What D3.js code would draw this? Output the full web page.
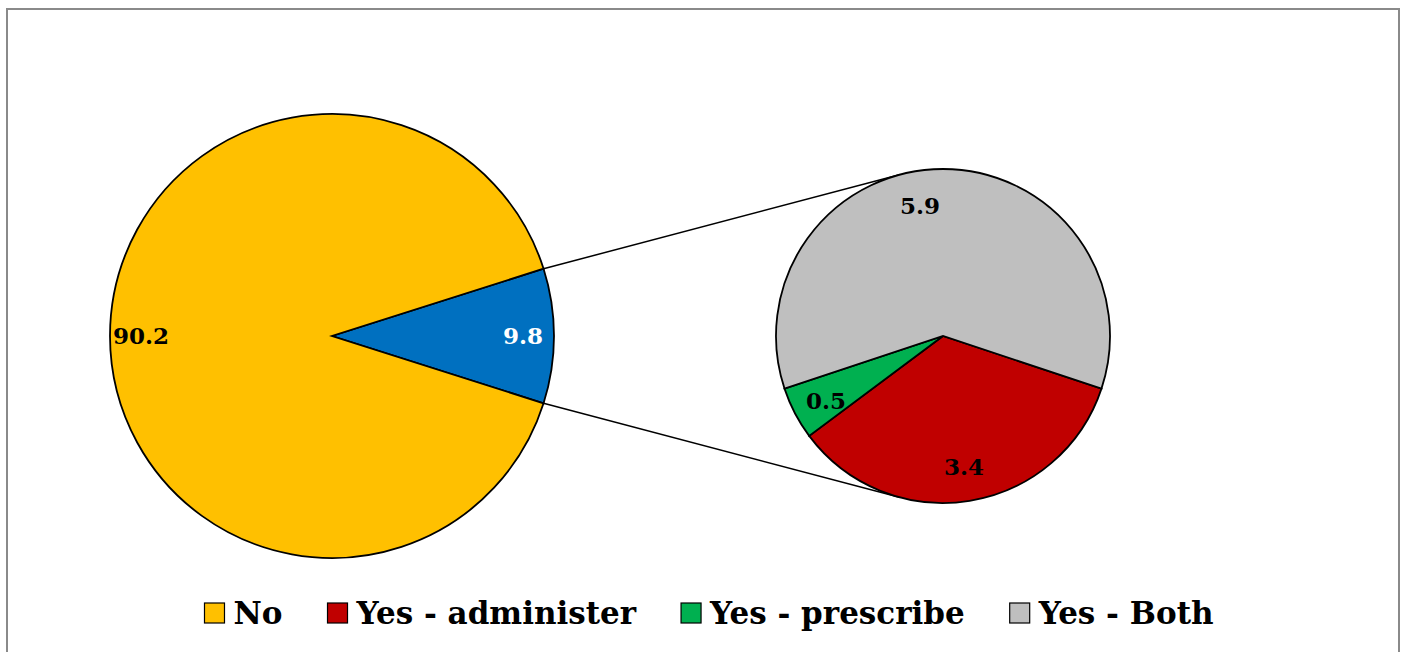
<!DOCTYPE html>
<html lang="en">
<head>
    <meta charset="UTF-8">
    <title>Pie of pie</title>
    <script src="https://d3js.org/d3.v7.min.js"></script>
</head>
<style type="text/css">
    body { margin: 0; background: white; }
    svg text { font-family: "DejaVu Serif", serif; font-weight: bold; }
</style>
<body>
<div id="chart"></div>
<script>
    // data
    var categories = ["No", "Yes - administer", "Yes - prescribe", "Yes - Both"];
    var values = [90.2, 3.4, 0.5, 5.9];
    var mainLabels = ["90.2", "9.8"];
    var colors = ["#FFC000", "#C00000", "#00B050", "#BFBFBF"];
    var yesColor = "#0070C0";

    var width = 1405, height = 652;
    var c1 = [332, 336], r1 = 222;
    var c2 = [943, 336], r2 = 167;

    var svg = d3.select("#chart").append("svg")
        .attr("width", width).attr("height", height);

    svg.append("rect")
        .attr("x", 7).attr("y", 9)
        .attr("width", 1392).attr("height", 660)
        .style("fill", "white")
        .style("stroke", "#8a8a8a")
        .style("stroke-width", 2);

    var yesTotal = d3.sum(values.slice(1));
    var total = d3.sum(values);
    var deg = Math.PI / 180;

    // main pie: "Yes" slice centred on the right side
    var mainData = [{name: "Yes", value: yesTotal, color: yesColor, label: mainLabels[1]},
                    {name: "No", value: values[0], color: colors[0], label: mainLabels[0]}];
    var start1 = 90 * deg - (yesTotal / total) * Math.PI;
    var pie1 = d3.pie().sort(null).value(function (d) { return d.value; })
        .startAngle(start1).endAngle(start1 + 2 * Math.PI);
    var arc1 = d3.arc().innerRadius(0).outerRadius(r1);

    var g1 = svg.append("g").attr("transform", "translate(" + c1[0] + "," + c1[1] + ")");
    var arcs1 = pie1(mainData);
    g1.selectAll("path").data(arcs1).enter().append("path")
        .attr("d", arc1)
        .style("fill", function (d) { return d.data.color; })
        .style("stroke", "black")
        .style("stroke-width", 1.8);

    // second pie: the "Yes" breakdown, "Both" centred at the top
    var subData = categories.slice(1).map(function (c, i) {
        return {name: c, value: values[i + 1], color: colors[i + 1]};
    });
    var start2 = (values[3] / yesTotal) * Math.PI;
    var pie2 = d3.pie().sort(null).value(function (d) { return d.value; })
        .startAngle(start2).endAngle(start2 + 2 * Math.PI);
    var arc2 = d3.arc().innerRadius(0).outerRadius(r2);

    // connector lines: tangents from the edges of the Yes slice to the second pie
    var yesArc = arcs1[0];
    [yesArc.startAngle, yesArc.endAngle].forEach(function (a, k) {
        var px = c1[0] + r1 * Math.sin(a), py = c1[1] - r1 * Math.cos(a);
        var dx = c2[0] - px, dy = c2[1] - py;
        var d = Math.sqrt(dx * dx + dy * dy);
        var base = Math.atan2(dy, dx);
        var off = Math.asin(r2 / d) * (k == 0 ? -1 : 1);
        var len = Math.sqrt(d * d - r2 * r2);
        svg.append("line")
            .attr("x1", px).attr("y1", py)
            .attr("x2", px + len * Math.cos(base + off))
            .attr("y2", py + len * Math.sin(base + off))
            .style("stroke", "black")
            .style("stroke-width", 1.5);
    });

    var g2 = svg.append("g").attr("transform", "translate(" + c2[0] + "," + c2[1] + ")");
    var arcs2 = pie2(subData);
    g2.selectAll("path").data(arcs2).enter().append("path")
        .attr("d", arc2)
        .style("fill", function (d) { return d.data.color; })
        .style("stroke", "black")
        .style("stroke-width", 1.8);

    // labels
    function labelPos(d, r) {
        var a = (d.startAngle + d.endAngle) / 2;
        return [r * Math.sin(a), -r * Math.cos(a)];
    }
    g1.selectAll("text").data(arcs1).enter().append("text")
        .attr("transform", function (d) { return "translate(" + labelPos(d, r1 * 0.86) + ")"; })
        .attr("text-anchor", "middle")
        .attr("dy", "0.36em")
        .style("font-size", "23px")
        .style("fill", function (d) { return d.data.name == "Yes" ? "white" : "black"; })
        .text(function (d) { return d.data.label; });

    var nudge = {"Yes - Both": [-23, 2], "Yes - prescribe": [0, 4]};
    g2.selectAll("text").data(arcs2).enter().append("text")
        .attr("transform", function (d) {
            var p = labelPos(d, r2 * 0.79);
            var n = nudge[d.data.name] || [0, 0];
            return "translate(" + (p[0] + n[0]) + "," + (p[1] + n[1]) + ")";
        })
        .attr("text-anchor", "middle")
        .attr("dy", "0.36em")
        .style("font-size", "23px")
        .text(function (d) { return d.data.value.toFixed(1); });

    // legend
    var legend = svg.append("g").attr("class", "legend");
    var items = legend.selectAll("g").data(categories).enter().append("g");
    items.append("rect")
        .attr("width", 20).attr("height", 20)
        .attr("y", -20)
        .style("fill", function (d, i) { return colors[i]; })
        .style("stroke", "black")
        .style("stroke-width", 1.2);
    items.append("text")
        .attr("x", 29).attr("y", 1)
        .style("font-size", "31px")
        .text(function (d) { return d; });

    var gap = 45;
    var x = 0;
    items.each(function () {
        var w = 29 + d3.select(this).select("text").node().getComputedTextLength();
        d3.select(this).attr("transform", "translate(" + x + ",0)");
        x += w + gap;
    });
    var legendW = x - gap;
    legend.attr("transform", "translate(" + (709 - legendW / 2) + ",623)");
</script>
</body>
</html>
